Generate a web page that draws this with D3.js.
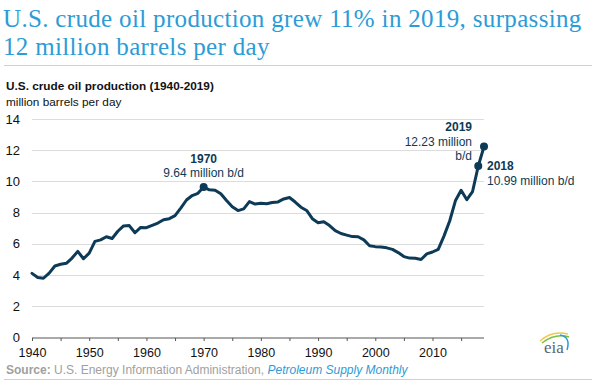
<!DOCTYPE html>
<html><head><meta charset="utf-8">
<script src="https://cdn.jsdelivr.net/npm/d3@7"></script>
<style>body{margin:0;background:#fff}svg{display:block}</style>
</head><body>
<svg id="c" width="592" height="380"></svg>
<script>
const years = d3.range(1940, 2020);
const production = [4.107,3.847,3.796,4.125,4.584,4.695,4.751,5.088,5.520,5.046,
5.407,6.158,6.256,6.458,6.342,6.807,7.151,7.170,6.710,7.054,
7.035,7.183,7.332,7.542,7.614,7.804,8.295,8.810,9.096,9.238,
9.637,9.463,9.441,9.208,8.774,8.375,8.132,8.245,8.707,8.552,
8.597,8.572,8.649,8.688,8.879,8.971,8.680,8.349,8.140,7.613,
7.355,7.417,7.171,6.847,6.662,6.560,6.465,6.452,6.252,5.881,
5.822,5.801,5.744,5.649,5.441,5.184,5.086,5.077,5.000,5.353,
5.478,5.646,6.497,7.466,8.759,9.431,8.831,9.352,10.991,12.23];
const yTicks = [0,2,4,6,8,10,12,14];
const xLabels = [1940,1950,1960,1970,1980,1990,2000,2010];
const xTicks = d3.range(1940, 2020, 5);
const highlights = [1970, 2018, 2019];

const svg = d3.select("#c");
const navy = "#0d3a56";
const sans = "Liberation Sans, Arial, sans-serif";
const x = d3.scaleLinear().domain([1940, 2019]).range([32, 484]);
const y = d3.scaleLinear().domain([0, 14]).range([337.5, 119]);

// title
const titleLines = ["U.S. crude oil production grew 11% in 2019, surpassing", "12 million barrels per day"];
svg.append("g").selectAll("text").data(titleLines).join("text")
  .attr("font-family","Liberation Serif, Times New Roman, serif")
  .attr("font-size",25).attr("letter-spacing",0.33).attr("fill","#2b9cd6")
  .attr("x",3).attr("y",(d,i)=>27 + i*27.5).text(d=>d);
svg.append("line").attr("x1",4).attr("x2",592).attr("y1",65.5).attr("y2",65.5).attr("stroke","#d0d0d0");

svg.append("text").attr("x",6).attr("y",90).attr("font-family",sans)
  .attr("font-size",11.8).attr("font-weight","bold").attr("fill","#111").text("U.S. crude oil production (1940-2019)");
svg.append("text").attr("x",6).attr("y",106).attr("font-family",sans)
  .attr("font-size",11.8).attr("fill","#111").text("million barrels per day");

// grid
svg.append("g").selectAll("line").data(yTicks.filter(d=>d>0)).join("line")
  .attr("x1",32).attr("x2",484).attr("y1",d=>Math.round(y(d))+0.5).attr("y2",d=>Math.round(y(d))+0.5)
  .attr("stroke","#dcdcdc").attr("stroke-width",1.2);
svg.append("g").selectAll("text").data(yTicks).join("text")
  .attr("x",20).attr("y",d=>y(d)+4.5).attr("text-anchor","end")
  .attr("font-family",sans).attr("font-size",13).attr("fill","#111").text(d=>d);

// x axis
const xAxis = d3.axisBottom(x).tickValues(xTicks).tickSize(3).tickFormat(d => xLabels.includes(d) ? d : "");
const gx = svg.append("g").attr("transform","translate(0,338)").call(xAxis);
gx.select(".domain").attr("stroke","#555").attr("d","M32,0H484");
gx.selectAll(".tick line").attr("stroke","#555");
gx.selectAll(".tick text").attr("font-family",sans).attr("font-size",12.5)
  .attr("fill","#111").attr("dy",0).attr("y",19);

// line
const data = years.map((yr,i)=>({yr, v: production[i]}));
svg.append("path").datum(data).attr("fill","none").attr("stroke",navy).attr("stroke-width",3)
  .attr("stroke-linejoin","round").attr("stroke-linecap","round")
  .attr("d", d3.line().x(d=>x(d.yr)).y(d=>y(d.v)));
svg.append("g").selectAll("circle").data(data.filter(d=>highlights.includes(d.yr))).join("circle")
  .attr("cx",d=>x(d.yr)).attr("cy",d=>y(d.v)).attr("r",4).attr("fill",navy);

// annotations
const ann = (tx,ty,anchor,bold,txt)=>svg.append("text").attr("x",tx).attr("y",ty).attr("text-anchor",anchor)
  .attr("font-family",sans).attr("font-size",12)
  .attr("font-weight",bold?"bold":"normal").attr("fill",navy).text(txt);
ann(x(1970),163,"middle",true,"1970");
ann(x(1970),177,"middle",false,"9.64 million b/d");
ann(472,131,"end",true,"2019");
ann(472,146,"end",false,"12.23 million");
ann(472,160,"end",false,"b/d");
ann(487,170,"start",true,"2018");
ann(487,185,"start",false,"10.99 million b/d");

// eia logo
const lg = svg.append("g");
lg.append("path").attr("d","M540,341 Q552,330 568,334").attr("fill","none").attr("stroke","#f2c94c").attr("stroke-width",1.5);
lg.append("path").attr("d","M542,343 Q555,333 569,337").attr("fill","none").attr("stroke","#7bc043").attr("stroke-width",1.5);
lg.append("path").attr("d","M560,335 Q571,337 567,350").attr("fill","none").attr("stroke","#2b9cd6").attr("stroke-width",1.5);
lg.append("text").attr("x",554).attr("y",353).attr("text-anchor","middle").attr("font-family","Liberation Serif, serif")
  .attr("font-size",17).attr("fill","#5a6670").text("eia");

// source
const src = svg.append("text").attr("x",6).attr("y",374).attr("font-family",sans)
  .attr("font-size",12).attr("fill","#a0a0a0");
src.append("tspan").attr("font-weight","bold").text("Source:");
src.append("tspan").text(" U.S. Energy Information Administration, ");
src.append("tspan").attr("font-style","italic").attr("fill","#2b9cd6").text("Petroleum Supply Monthly");
svg.append("line").attr("x1",4).attr("x2",592).attr("y1",379.5).attr("y2",379.5).attr("stroke","#d0d0d0");
</script>
</body></html>
